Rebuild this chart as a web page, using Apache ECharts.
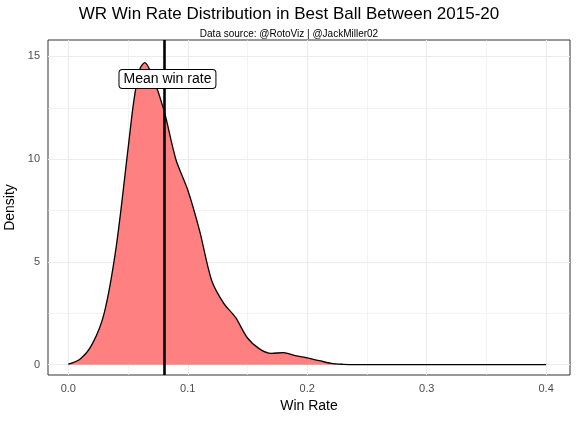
<!DOCTYPE html><html><head><meta charset="utf-8"><script src="https://cdn.jsdelivr.net/npm/echarts@6/dist/echarts.min.js"></script></head><body style="margin:0"><div id="c" style="width:578px;height:422px"></div><script>
const winRate=[0,0.01,0.02,0.03,0.04,0.05,0.055,0.06,0.064,0.07,0.08,0.09,0.1,0.11,0.12,0.13,0.14,0.15,0.16,0.17,0.18,0.19,0.2,0.21,0.22,0.23,0.24,0.28,0.32,0.36,0.4];
const density=[0.03,0.28,1.0,2.5,5.7,10.5,12.9,14.4,14.7,14.1,12.4,10.0,8.5,6.5,4.1,3.0,2.3,1.3,0.77,0.55,0.59,0.44,0.33,0.2,0.07,0.02,0,0,0,0,0];
const meanRate=0.083;
const xTicks=[0,0.1,0.2,0.3,0.4];
const yTicks=[0,5,10,15];
const xMinor=[0.05,0.15,0.25,0.35];
const yMinor=[2.5,7.5,12.5];
const grey='#ebebeb';
const gl=[];
xTicks.forEach(v=>gl.push({xAxis:v,lineStyle:{color:grey,width:1.1,type:'solid'}}));
xMinor.forEach(v=>gl.push({xAxis:v,lineStyle:{color:grey,width:0.6,type:'solid'}}));
yTicks.forEach(v=>gl.push({yAxis:v,lineStyle:{color:grey,width:1.1,type:'solid'}}));
yMinor.forEach(v=>gl.push({yAxis:v,lineStyle:{color:grey,width:0.6,type:'solid'}}));
const ch=echarts.init(document.getElementById('c'));
const F='Liberation Sans';
ch.setOption({animation:false,textStyle:{fontFamily:F},
graphic:[{type:'text',left:'center',top:6,style:{text:'WR Win Rate Distribution in Best Ball Between 2015-20',fontSize:17,fill:'#000',fontFamily:F}},
{type:'text',left:'center',top:29,style:{text:'Data source: @RotoViz | @JackMiller02',fontSize:10,fill:'#000',fontFamily:F}}],
grid:{left:48,right:8,top:40,bottom:47,outerBoundsMode:'none',containLabel:false,show:true,borderColor:'#333',borderWidth:1,backgroundColor:'#fff'},
xAxis:{type:'value',min:-0.017,max:0.42,name:'Win Rate',nameLocation:'middle',nameGap:24,nameTextStyle:{fontSize:14,color:'#000'},splitLine:{show:false},axisLine:{show:false},axisTick:{show:true,customValues:xTicks,length:3,lineStyle:{color:'#333'}},axisLabel:{customValues:xTicks,color:'#4d4d4d',fontSize:11,formatter:v=>v===0?'0.0':String(v)}},
yAxis:{type:'value',min:-0.5,max:15.8,name:'Density',nameLocation:'middle',nameGap:30,nameTextStyle:{fontSize:14,color:'#000'},splitLine:{show:false},axisLine:{show:false},axisTick:{show:true,customValues:yTicks,length:3,lineStyle:{color:'#333'}},axisLabel:{customValues:yTicks,color:'#4d4d4d',fontSize:11}},
series:[{type:'line',data:winRate.map((x,i)=>[x,density[i]]),smooth:0.3,symbol:'none',lineStyle:{color:'#000',width:1.3},areaStyle:{color:'#ff8080',opacity:1},z:3,
markLine:{silent:true,symbol:'none',label:{show:false},data:gl,z:1}},
{type:'line',data:[],markLine:{silent:true,symbol:'none',label:{show:false},data:[{xAxis:meanRate,lineStyle:{color:'#000',width:2.6,type:'solid'}}]},
markPoint:{symbol:'rect',symbolSize:1,itemStyle:{color:'transparent'},data:[{coord:[meanRate,13.9]}],label:{show:true,position:'inside',formatter:'Mean win rate',color:'#000',fontSize:14,backgroundColor:'#fff',borderColor:'#000',borderWidth:1,borderRadius:3,padding:[2,4]}},z:5}]});
</script></body></html>
